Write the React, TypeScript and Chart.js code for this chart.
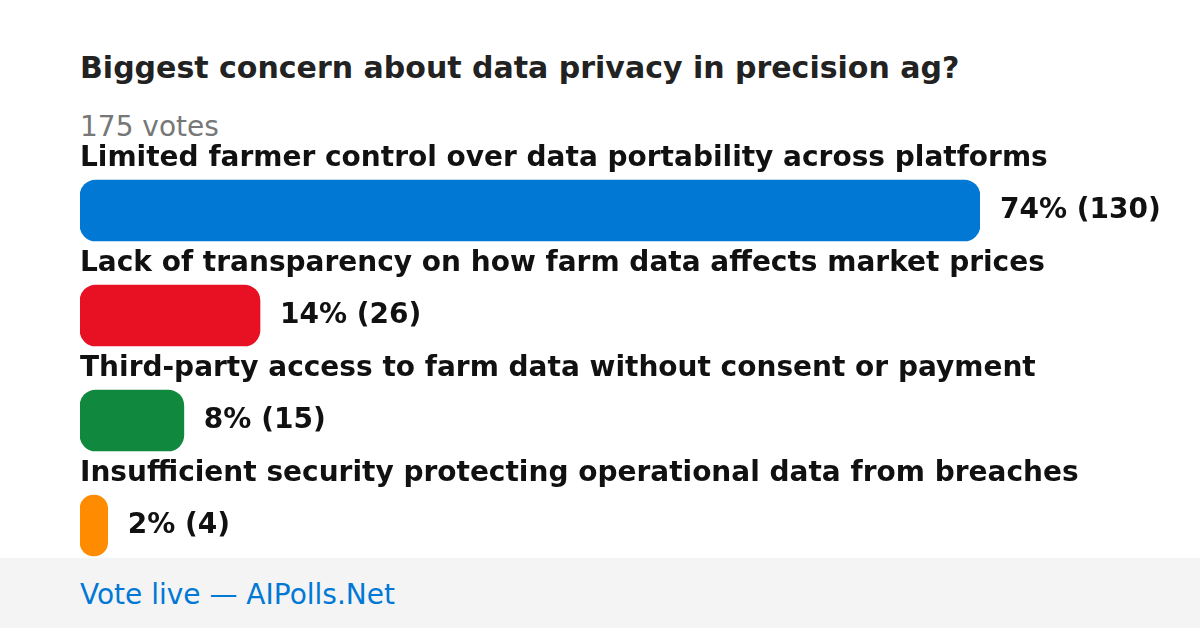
import React, { useEffect, useRef } from "react";
import { Chart, registerables } from "chart.js";

Chart.register(...registerables);

const TITLE = "Biggest concern about data privacy in precision ag?";
const SUBTITLE = "175 votes";
const FOOTER = "Vote live — AIPolls.Net";

const categories = [
  "Limited farmer control over data portability across platforms",
  "Lack of transparency on how farm data affects market prices",
  "Third-party access to farm data without consent or payment",
  "Insufficient security protecting operational data from breaches",
];
const votes = [130, 26, 15, 4];
const percents = [74, 14, 8, 2];
const colors = ["#0078D4", "#E81123", "#10893E", "#FF8C00"];

const FONT = '"DejaVu Sans", sans-serif';

const labelPlugin = {
  id: "pollLabels",
  afterDatasetsDraw(chart: any) {
    const ctx = chart.ctx;
    const meta = chart.getDatasetMeta(0);
    ctx.save();
    ctx.font = `bold 28px ${FONT}`;
    ctx.fillStyle = "#111111";
    ctx.textBaseline = "middle";
    meta.data.forEach((bar: any, i: number) => {
      const top = bar.y - bar.height / 2;
      ctx.textAlign = "left";
      ctx.fillText(categories[i], chart.chartArea.left, top - 21);
      ctx.fillText(`${percents[i]}% (${votes[i]})`, bar.x + 20, bar.y);
    });
    ctx.restore();
  },
};

export default function App() {
  const ref = useRef<HTMLCanvasElement>(null);
  useEffect(() => {
    document.body.style.margin = "0";
    const chart = new Chart(ref.current!, {
      type: "bar",
      data: {
        labels: categories,
        datasets: [
          {
            data: votes,
            backgroundColor: colors,
            borderRadius: 16,
            borderSkipped: false,
            barThickness: 61,
          },
        ],
      },
      options: {
        indexAxis: "y",
        animation: false,
        responsive: false,
        maintainAspectRatio: false,
        layout: { padding: { left: 80, right: 220, top: 158, bottom: 50 } },
        scales: {
          x: { display: false, min: 0, max: Math.max(...votes) },
          y: { display: false },
        },
        plugins: {
          legend: { display: false },
          tooltip: { enabled: false },
          title: { display: false },
        },
      },
      plugins: [labelPlugin],
    });
    return () => chart.destroy();
  }, []);

  return (
    <div
      style={{
        position: "fixed",
        left: 0,
        top: 0,
        width: 1200,
        height: 628,
        background: "#ffffff",
        overflow: "hidden",
        fontFamily: FONT,
      }}
    >
      <div
        style={{
          position: "absolute",
          left: 80,
          top: 48,
          fontSize: 30,
          fontWeight: "bold",
          color: "#222222",
          lineHeight: "40px",
          whiteSpace: "nowrap",
        }}
      >
        {TITLE}
      </div>
      <div
        style={{
          position: "absolute",
          left: 80,
          top: 107,
          fontSize: 28,
          color: "#777777",
          lineHeight: "40px",
          whiteSpace: "nowrap",
        }}
      >
        {SUBTITLE}
      </div>
      <div
        style={{
          position: "absolute",
          left: 0,
          top: 558,
          width: 1200,
          height: 70,
          background: "#F4F4F4",
        }}
      >
        <div
          style={{
            position: "absolute",
            left: 80,
            top: 17,
            fontSize: 28,
            color: "#0078D4",
            lineHeight: "40px",
            whiteSpace: "nowrap",
          }}
        >
          {FOOTER}
        </div>
      </div>
      <canvas
        ref={ref}
        width={1200}
        height={628}
        style={{ position: "absolute", left: 0, top: 0, width: 1200, height: 628 }}
      />
    </div>
  );
}
